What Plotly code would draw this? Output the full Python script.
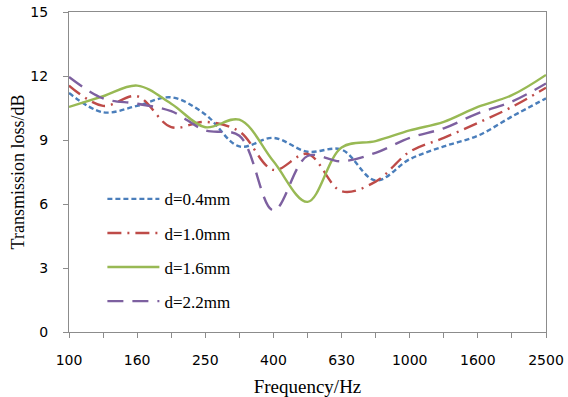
import plotly.graph_objects as go

freqs = ["100", "125", "160", "200", "250", "315", "400", "500", "630", "800",
         "1000", "1250", "1600", "2000", "2500"]
tick_labels = ["100", "", "160", "", "250", "", "400", "", "630", "", "1000", "", "1600", "", "2500"]

tl_d04 = [11.2, 10.3, 10.6, 11.0, 10.2, 8.7, 9.1, 8.45, 8.55, 7.1, 8.1, 8.7, 9.2, 10.1, 10.95]
tl_d10 = [11.55, 10.6, 11.05, 9.6, 9.85, 9.4, 7.6, 8.35, 6.6, 7.05, 8.45, 9.1, 9.8, 10.55, 11.45]
tl_d16 = [10.55, 11.05, 11.55, 10.7, 9.6, 9.95, 8.0, 6.1, 8.65, 8.95, 9.45, 9.85, 10.55, 11.1, 12.05]
tl_d22 = [11.95, 10.95, 10.7, 10.35, 9.45, 9.2, 5.7, 8.25, 8.0, 8.4, 9.1, 9.55, 10.25, 10.8, 11.65]

series = [
    ("d=0.4mm", tl_d04, "#4A7EBB", "5px,3px"),
    ("d=1.0mm", tl_d10, "#BE4B48", "14px,6px,2px,6px"),
    ("d=1.6mm", tl_d16, "#98B954", "solid"),
    ("d=2.2mm", tl_d22, "#7D60A0", "16px,9px"),
]

fig = go.Figure()
for i, (name, vals, color, dash) in enumerate(series):
    fig.add_trace(go.Scatter(
        x=freqs, y=vals, name=name, mode="lines",
        line=dict(color=color, width=2.4, dash=dash, shape="spline", smoothing=1.0),
        legendgroup=f"g{i}",
    ))

axis_color = "#8C8C8C"
fig.update_layout(
    width=568, height=397,
    margin=dict(l=69, r=22, t=12, b=65),
    paper_bgcolor="white", plot_bgcolor="white",
    showlegend=True,
    legend=dict(
        x=0.07, y=0.471, xanchor="left", yanchor="top",
        bgcolor="rgba(0,0,0,0)",
        font=dict(family="Liberation Serif", size=17, color="black"),
        itemwidth=52, tracegroupgap=9,
    ),
    xaxis=dict(
        type="category", range=[0, 14], automargin=False,
        tickmode="array", tickvals=freqs, ticktext=tick_labels,
        ticks="outside", ticklen=5, tickcolor=axis_color, ticklabelstandoff=10,
        ticklabeloverflow="allow",
        showline=True, linecolor=axis_color, linewidth=1.3, mirror=True,
        showgrid=False, zeroline=False,
        tickfont=dict(family="DejaVu Sans", size=14, color="black"),
        title=dict(text="Frequency/Hz", font=dict(family="Liberation Serif", size=19, color="black"), standoff=12),
    ),
    yaxis=dict(
        range=[0, 15], tickvals=[0, 3, 6, 9, 12, 15], automargin=False,
        ticks="outside", ticklen=5, tickcolor=axis_color, ticklabelstandoff=12,
        ticklabeloverflow="allow",
        showline=True, linecolor=axis_color, linewidth=1.3, mirror=True,
        showgrid=False, zeroline=False,
        tickfont=dict(family="DejaVu Sans", size=14, color="black"),
        title=dict(text="Transmission loss/dB", font=dict(family="Liberation Serif", size=18, color="black"), standoff=0),
    ),
)

fig.write_html("out.html", config={"displayModeBar": False},
               post_script="document.body.style.margin='0';")
